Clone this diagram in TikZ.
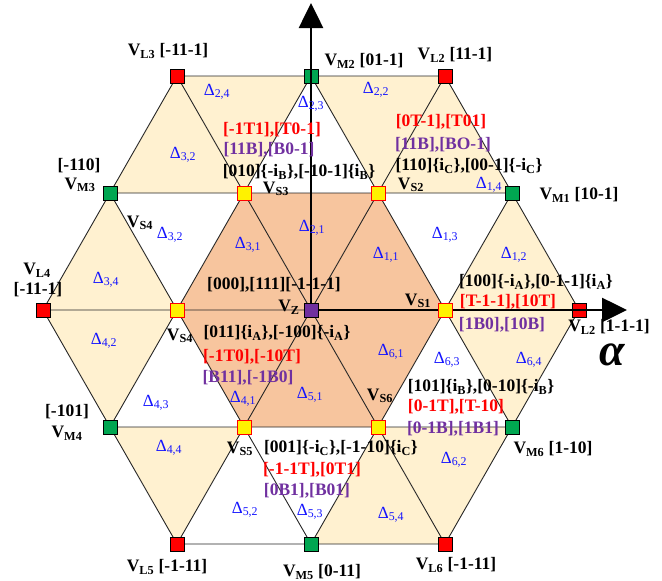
\documentclass[tikz,border=0pt]{standalone}
\usepackage{fontspec}
\setmainfont{Liberation Serif}
\usetikzlibrary{arrows.meta}
\definecolor{peach}{RGB}{247,197,158}
\definecolor{cream}{RGB}{255,241,208}
\definecolor{vgreen}{RGB}{0,166,81}
\definecolor{vpurple}{RGB}{112,48,160}
\definecolor{vblue}{RGB}{20,20,255}
\newcommand{\sbs}[1]{\textsubscript{#1}}
\tikzset{
  lbl/.style={font=\bfseries\fontsize{17.5}{20}\selectfont, inner sep=0pt},
  redl/.style={lbl, text=red},
  purl/.style={lbl, text=vpurple},
  dl/.style={font=\fontsize{17}{20}\selectfont, text=vblue, inner sep=0pt},
  sq/.style={rectangle, draw=black, line width=0.8pt, minimum size=14pt, inner sep=0pt},
  edge/.style={draw=black!85, line width=0.9pt},
  axis/.style={line width=2.6pt, -{Triangle[length=25pt,width=24pt]}},
}
\begin{document}
\begin{tikzpicture}[x=1pt,y=-1pt]
\useasboundingbox (0,0) rectangle (662,581);
% vertices
\coordinate (Z) at (311,310);
\coordinate (S1) at (445,310);
\coordinate (S2) at (378,193);
\coordinate (S3) at (244,193);
\coordinate (S4) at (177,310);
\coordinate (S5) at (244,427);
\coordinate (S6) at (378,427);
\coordinate (L1) at (579,310);
\coordinate (L2) at (445,76);
\coordinate (L3) at (177,76);
\coordinate (L4) at (43,310);
\coordinate (L5) at (177,544);
\coordinate (L6) at (445,544);
\coordinate (M1) at (512,193);
\coordinate (M2) at (311,76);
\coordinate (M3) at (110,193);
\coordinate (M4) at (110,427);
\coordinate (M5) at (311,544);
\coordinate (M6) at (512,427);
\coordinate (Ytip) at (311,3);
\coordinate (Xtip) at (627,310);
% fills
\fill[peach] (S1)--(S2)--(S3)--(S4)--(S5)--(S6)--cycle;
\fill[cream] (S1)--(L1)--(M1)--cycle;
\fill[cream] (S2)--(M1)--(L2)--cycle;
\fill[cream] (S2)--(L2)--(M2)--cycle;
\fill[cream] (S3)--(M2)--(L3)--cycle;
\fill[cream] (S3)--(L3)--(M3)--cycle;
\fill[cream] (S4)--(M3)--(L4)--cycle;
\fill[cream] (S4)--(L4)--(M4)--cycle;
\fill[cream] (S5)--(M4)--(L5)--cycle;
\fill[cream] (S6)--(M5)--(L6)--cycle;
\fill[cream] (S6)--(L6)--(M6)--cycle;
\fill[cream] (S1)--(M6)--(L1)--cycle;
% edges
\foreach \k/\n in {1/2,2/3,3/4,4/5,5/6,6/1}{
  \draw[edge] (S\k)--(L\k) (S\k)--(M\k) (M\k)--(S\n) (L\k)--(M\k)--(L\n) (S\k)--(S\n) (Z)--(S\k);
}
% outer squares
\node[sq, fill=red] (nL1) at (L1) {};
\node[sq, fill=red] (nL2) at (L2) {};
\node[sq, fill=red] (nL3) at (L3) {};
\node[sq, fill=red] (nL4) at (L4) {};
\node[sq, fill=red] (nL5) at (L5) {};
\node[sq, fill=red] (nL6) at (L6) {};
\node[sq, fill=vgreen] (nM1) at (M1) {};
\node[sq, fill=vgreen] (nM2) at (M2) {};
\node[sq, fill=vgreen] (nM3) at (M3) {};
\node[sq, fill=vgreen] (nM4) at (M4) {};
\node[sq, fill=vgreen] (nM5) at (M5) {};
\node[sq, fill=vgreen] (nM6) at (M6) {};
% axes
\draw[axis] (Z)--(Ytip);
\draw[axis] (Z)--(Xtip);
% inner squares
\node[sq, fill=yellow, draw=red] (nS1) at (S1) {};
\node[sq, fill=yellow, draw=red] (nS2) at (S2) {};
\node[sq, fill=yellow, draw=red] (nS3) at (S3) {};
\node[sq, fill=yellow, draw=red] (nS4) at (S4) {};
\node[sq, fill=yellow, draw=red] (nS5) at (S5) {};
\node[sq, fill=yellow, draw=red] (nS6) at (S6) {};
\node[sq, fill=vpurple] (nZ) at (Z) {};
% black labels
\node[lbl] (t1) at (168,51) {V\sbs{L3} [-11-1]};
\node[lbl] (t2) at (364,61) {V\sbs{M2} [01-1]};
\node[lbl] (t3) at (455,55) {V\sbs{L2} [11-1]};
\node[lbl] (t4) at (79,166) {[-110]};
\node[lbl] (t5) at (80,185) {V\sbs{M3}};
\node[lbl] (t6) at (140,223) {V\sbs{S4}};
\node[lbl] (t7) at (37,270) {V\sbs{L4}};
\node[lbl] (t8) at (38,290) {[-11-1]};
\node[lbl] (t9) at (274,285) {[000],[111][-1-1-1]};
\node[lbl] (t10) at (289,307) {V\sbs{Z}};
\node[lbl] (t11) at (418,301) {V\sbs{S1}};
\node[lbl] (t12) at (180,336) {V\sbs{S4}};
\node[lbl] (t13) at (277,333) {[011]\{i\sbs{A}\},[-100]\{-i\sbs{A}\}};
\node[lbl] (t14) at (67,412) {[-101]};
\node[lbl] (t15) at (67,433) {V\sbs{M4}};
\node[lbl] (t16) at (240,449) {V\sbs{S5}};
\node[lbl] (t17) at (341,448) {[001]\{-i\sbs{C}\},[-1-10]\{i\sbs{C}\}};
\node[lbl] (t18) at (167,567) {V\sbs{L5} [-1-11]};
\node[lbl] (t19) at (322,572) {V\sbs{M5} [0-11]};
\node[lbl] (t20) at (456,565) {V\sbs{L6} [-1-11]};
\node[lbl] (t21) at (553,449) {V\sbs{M6} [1-10]};
\node[lbl] (t22) at (481,387) {[101]\{i\sbs{B}\},[0-10]\{-i\sbs{B}\}};
\node[lbl] (t23) at (380,396) {V\sbs{S6}};
\node[lbl] (t24) at (609,327) {V\sbs{L2} [1-1-1]};
\node[lbl] (t25) at (536,282) {[100]\{-i\sbs{A}\},[0-1-1]\{i\sbs{A}\}};
\node[lbl] (t26) at (579,195) {V\sbs{M1} [10-1]};
\node[lbl] (t27) at (411,185) {V\sbs{S2}};
\node[lbl] (t28) at (469,166) {[110]\{i\sbs{C}\},[00-1]\{-i\sbs{C}\}};
\node[lbl] (t29) at (299,172) {[010]\{-i\sbs{B}\},[-10-1]\{i\sbs{B}\}};
\node[lbl] (t30) at (276,189) {V\sbs{S3}};
% red labels
\node[redl] (r1) at (272,130) {[-1T1],[T0-1]};
\node[redl] (r2) at (441,122) {[0T-1],[T01]};
\node[redl] (r3) at (508,302) {[T-1-1],[10T]};
\node[redl] (r4) at (456,407) {[0-1T],[T-10]};
\node[redl] (r5) at (312,470) {[-1-1T],[0T1]};
\node[redl] (r6) at (252,357) {[-1T0],[-10T]};
% purple labels
\node[purl] (p1) at (269,150) {[11B],[B0-1]};
\node[purl] (p2) at (443,145) {[11B],[BO-1]};
\node[purl] (p3) at (502,325) {[1B0],[10B]};
\node[purl] (p4) at (453,429) {[0-1B],[1B1]};
\node[purl] (p5) at (307,491) {[0B1],[B01]};
\node[purl] (p6) at (248,378) {[B11],[-1B0]};
% delta labels
\node[dl] (d24) at (217,92) {Δ\sbs{2,4}};
\node[dl] (d23) at (311,104) {Δ\sbs{2,3}};
\node[dl] (d22) at (376,90) {Δ\sbs{2,2}};
\node[dl] (d32a) at (183,155) {Δ\sbs{3,2}};
\node[dl] (d32b) at (170,235) {Δ\sbs{3,2}};
\node[dl] (d31) at (248,245) {Δ\sbs{3,1}};
\node[dl] (d21) at (312,228) {Δ\sbs{2,1}};
\node[dl] (d11) at (386,255) {Δ\sbs{1,1}};
\node[dl] (d14) at (489,185) {Δ\sbs{1,4}};
\node[dl] (d13) at (445,235) {Δ\sbs{1,3}};
\node[dl] (d12) at (514,255) {Δ\sbs{1,2}};
\node[dl] (d34) at (106,280) {Δ\sbs{3,4}};
\node[dl] (d42) at (104,341) {Δ\sbs{4,2}};
\node[dl] (d43) at (156,403) {Δ\sbs{4,3}};
\node[dl] (d44) at (169,448) {Δ\sbs{4,4}};
\node[dl] (d41) at (243,399) {Δ\sbs{4,1}};
\node[dl] (d51) at (310,395) {Δ\sbs{5,1}};
\node[dl] (d61) at (391,352) {Δ\sbs{6,1}};
\node[dl] (d63) at (447,360) {Δ\sbs{6,3}};
\node[dl] (d64) at (529,360) {Δ\sbs{6,4}};
\node[dl] (d62) at (454,460) {Δ\sbs{6,2}};
\node[dl] (d52) at (245,510) {Δ\sbs{5,2}};
\node[dl] (d53) at (310,512) {Δ\sbs{5,3}};
\node[dl] (d54) at (391,515) {Δ\sbs{5,4}};
% alpha
\node[font=\bfseries\itshape\fontsize{46}{50}\selectfont, inner sep=0pt, text height=21pt, text depth=1pt] (alpha) at (612,355) {α};
\end{tikzpicture}
\end{document}
